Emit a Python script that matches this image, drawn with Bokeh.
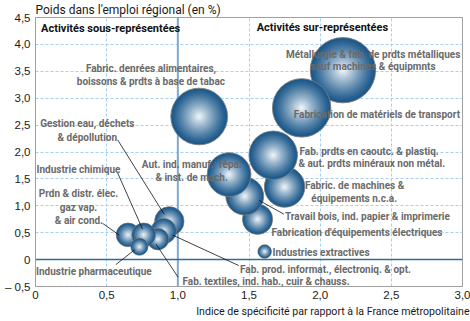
import math
from bokeh.plotting import figure
from bokeh.models import (Range1d, FixedTicker, CustomJSTickFormatter, Span, Label,
                          ColumnDataSource, Title)
from bokeh.embed import file_html
from bokeh.resources import INLINE

# ---------------- data ----------------
activities = [
    "Métallurgie & fab. de prdts métalliques",
    "Fabrication de matériels de transport",
    "Fabric. denrées alimentaires, boissons & prdts à base de tabac",
    "Fabric. de machines & équipements n.c.a.",
    "Fab. prdts en caoutc. & plastiq. & aut. prdts minéraux non métal.",
    "Fabrication d'équipements électriques",
    "Travail bois, ind. papier & imprimerie",
    "Aut. ind. manuf.; répa. & inst. de mach.",
    "Industries extractives",
    "Gestion eau, déchets & dépollution",
    "Fab. prod. informat., électroniq. & opt.",
    "Fab. textiles, ind. hab., cuir & chauss.",
    "Prdn & distr. élec. gaz vap. & air cond.",
    "Industrie chimique",
    "Industrie pharmaceutique",
]
# indice de spécificité (x)
indice = [2.16, 1.87, 1.15, 1.75, 1.67, 1.56, 1.47, 1.36, 1.61, 0.94, 0.90, 0.86, 0.65, 0.76, 0.73]
# poids dans l'emploi régional, en % (y; bubble area proportional)
poids = [3.52, 2.82, 2.66, 1.35, 1.94, 0.75, 1.18, 1.58, 0.15, 0.71, 0.53, 0.38, 0.46, 0.46, 0.24]

x_ticks = [0, 0.5, 1.0, 1.5, 2.0, 2.5, 3.0]
y_ticks = [-0.5, 0, 0.5, 1.0, 1.5, 2.0, 2.5, 3.0, 3.5, 4.0, 4.5]

x_title = "Indice de spécificité par rapport à la France métropolitaine"
y_title = "Poids dans l'emploi régional (en %)"

NARROW = "'Noto Sans Condensed', Roboto, sans-serif"

# ---------------- figure ----------------
p = figure(width=470, height=321, output_backend="svg", toolbar_location=None,
           x_range=Range1d(0, 3), y_range=Range1d(-0.5, 4.5),
           min_border_left=35, min_border_right=8, min_border_top=15, min_border_bottom=35)
p.background_fill_color = "white"
p.border_fill_color = "white"
p.outline_line_color = "#a0a0a0"
p.outline_line_width = 1

fmt = CustomJSTickFormatter(code="""
if (Math.abs(tick) < 1e-9) return '0';
var s = Math.abs(tick).toFixed(1).replace('.', ',');
return tick < 0 ? '\u2013 ' + s : s;
""")
for ax, ticks, stand in ((p.xaxis, x_ticks, 4), (p.yaxis, y_ticks, 5)):
    ax.ticker = FixedTicker(ticks=ticks)
    ax.formatter = fmt
    ax.major_tick_out = 0
    ax.major_tick_in = 0
    ax.minor_tick_out = 0
    ax.minor_tick_in = 0
    ax.axis_line_color = "#a0a0a0"
    ax.major_label_text_font = "Liberation Sans"
    ax.major_label_text_font_size = "11.5px"
    ax.major_label_text_color = "#1a1a1a"
    ax.major_label_standoff = stand

p.xgrid.ticker = FixedTicker(ticks=x_ticks)
p.ygrid.ticker = FixedTicker(ticks=y_ticks)
for g in (p.xgrid, p.ygrid):
    g.grid_line_color = "#a6cff0"
    g.grid_line_dash = "3 2"
    g.grid_line_width = 1

p.add_layout(Span(location=1.0, dimension="height", line_color="#7ea9cc", line_width=2, level="underlay"))
p.add_layout(Span(location=0.0, dimension="width", line_color="#2f6b9b", line_width=1.5, level="underlay"))

# axis titles
p.add_layout(Title(text=y_title, align="left", text_font=NARROW, text_font_size="12px",
                   text_font_style="normal", text_color="#1a1a1a", standoff=1, offset=0), "above")
p.add_layout(Title(text=x_title, align="right", text_font=NARROW, text_font_size="10.6px",
                   text_font_style="normal", text_color="#1a1a1a", standoff=3, offset=-7), "below")

# ---------------- bubbles (radial gradient by layers) ----------------
N = 26
edge = (27, 88, 138)
center = (246, 250, 253)
fracs = [1 - i / N for i in range(N)]

def mix(t):
    c = [round(edge[k] + (center[k] - edge[k]) * t) for k in range(3)]
    return "#%02x%02x%02x" % tuple(c)

colors = [mix((1 - f) ** 1.2) for f in fracs]
for xi, yi in zip(indice, poids):
    d = 34.8 * math.sqrt(yi)
    src = ColumnDataSource(dict(
        x=[xi] * N, y=[yi] * N,
        size=[d * f for f in fracs],
        color=colors,
        la=[1.0] + [0.0] * (N - 1),
    ))
    p.scatter("x", "y", size="size", fill_color="color", line_color="#7d7d7d",
              line_alpha="la", line_width=0.9, source=src)

# ---------------- leader lines ----------------
leaders = dict(
    x0=[0.577, 0.577, 0.472, 0.565, 0.846, 0.963, 1.571],
    y0=[2.227, 1.611, 0.673, -0.092, 0.290, 0.456, 1.101],
    x1=[0.904, 0.752, 0.588, 0.698, 1.002, 1.428, 1.746],
    y1=[0.843, 0.566, 0.456, 0.185, -0.327, -0.111, 0.843],
)
p.segment("x0", "y0", "x1", "y1", source=ColumnDataSource(leaders), line_color="#111111", line_width=0.8)

# ---------------- text ----------------
GRAY = "#6a6a6a"
texts = [
    ("Métallurgie & fab. de prdts métalliques", 2.372, 3.81, "center"),
    ("sauf machines & équipmnts", 2.372, 3.58, "center"),
    ("Fabrication de matériels de  transport", 3.0, 2.69, "right"),
    ("Fab. prdts en caoutc. & plastiq.", 1.855, 2.017, "left"),
    ("& aut. prdts minéraux non métal.", 1.847, 1.777, "left"),
    ("Fabric. de machines &", 2.242, 1.384, "center"),
    ("équipements n.c.a.", 2.239, 1.144, "center"),
    ("Travail bois, ind. papier  & imprimerie", 1.753, 0.793, "left"),
    ("Fabrication d'équipements électriques", 1.658, 0.504, "left"),
    ("Industries extractives", 1.665, 0.135, "left"),
    ("Fab. prod. informat., électroniq. & opt.", 1.437, -0.185, "left"),
    ("Fab. textiles, ind. hab., cuir & chauss.", 1.033, -0.40, "left"),
    ("Industrie pharmaceutique", 0.004, -0.216, "left"),
    ("Prdn & distr. élec.", 0.302, 1.223, "center"),
    ("gaz vap.", 0.302, 0.965, "center"),
    ("& air cond.", 0.305, 0.732, "center"),
    ("Industrie chimique", 0.302, 1.673, "center"),
    ("Aut. ind. manuf.; répa.", 1.098, 1.766, "center"),
    ("& inst. de mach.", 1.097, 1.531, "center"),
    ("Gestion eau, déchets", 0.364, 2.533, "center"),
    ("& dépollution", 0.364, 2.269, "center"),
    ("Fabric. denrées alimentaires,", 0.811, 3.548, "center"),
    ("boissons & prdts à base de tabac", 0.811, 3.316, "center"),
]
for t, x, y, al in texts:
    p.add_layout(Label(x=x, y=y, text=t, text_align=al, text_baseline="middle",
                       text_font=NARROW, text_font_style="bold", text_font_size="10px",
                       text_color=GRAY))

for t, x, y in (("Activités sous-représentées", 0.039, 4.30), ("Activités sur-représentées", 1.554, 4.32)):
    p.add_layout(Label(x=x, y=y, text=t, text_align="left", text_baseline="middle",
                       text_font=NARROW, text_font_style="bold", text_font_size="11px",
                       text_color="#111111"))

open("out.html", "w").write(file_html(p, INLINE))
